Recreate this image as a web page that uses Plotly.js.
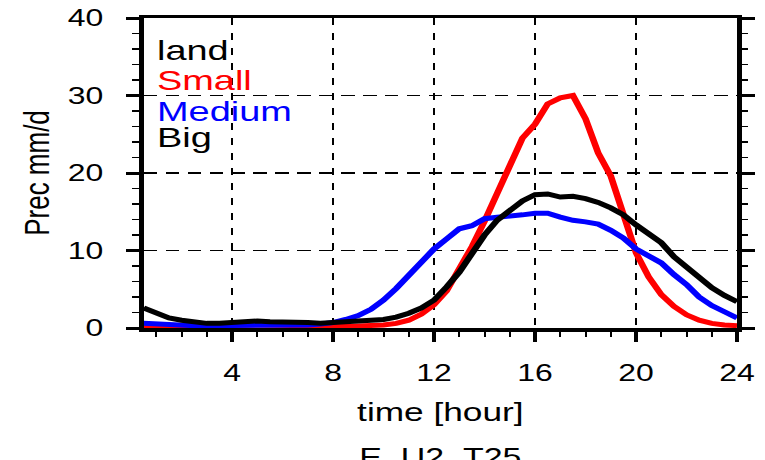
<!DOCTYPE html>
<html>
<head>
<meta charset="utf-8">
<script src="https://cdn.plot.ly/plotly-3.0.1.min.js"></script>
<style>
  html, body { margin: 0; padding: 0; background: #fff; overflow: hidden; }
  #plot { width: 575px; height: 460px; transform: scaleX(1.3304); transform-origin: 0 0; }
</style>
</head>
<body>
<div id="plot"></div>
<script>
// time in hours
const hours = [0.5,1,1.5,2,2.5,3,3.5,4,4.5,5,5.5,6,6.5,7,7.5,8,8.5,9,9.5,10,10.5,11,11.5,12,
               12.5,13,13.5,14,14.5,15,15.5,16,16.5,17,17.5,18,18.5,19,19.5,20,20.5,21,21.5,22,22.5,23,23.5,24];

// Precipitation (mm/d)
const small  = [0.2,0.2,0.2,0.2,0.2,0.2,0.25,0.3,0.35,0.4,0.35,0.3,0.25,0.2,0.2,0.2,0.2,0.25,0.3,0.4,0.6,1.0,1.8,3.0,
                4.8,7.5,10.5,13.8,17.5,21.3,24.5,26.3,28.9,29.7,30.0,27.0,22.6,19.6,14.3,9.7,6.6,4.3,2.8,1.7,1.0,0.6,0.4,0.3];
const medium = [0.6,0.5,0.4,0.3,0.3,0.3,0.3,0.3,0.3,0.3,0.3,0.3,0.3,0.4,0.5,0.7,1.1,1.6,2.4,3.6,5.1,6.8,8.6,10.2,
                11.5,12.8,13.2,14.1,14.3,14.4,14.6,14.8,14.8,14.3,13.9,13.7,13.4,12.6,11.6,10.2,9.2,8.4,6.9,5.6,4.0,2.9,2.1,1.3];
const big    = [2.6,1.9,1.3,1.0,0.8,0.6,0.6,0.7,0.8,0.9,0.8,0.8,0.8,0.7,0.6,0.7,0.8,0.9,1.0,1.1,1.4,1.9,2.6,3.6,
                5.3,7.2,9.6,12.0,13.9,15.1,16.4,17.2,17.3,16.9,17.0,16.7,16.2,15.5,14.6,13.3,12.1,11.0,9.2,7.9,6.4,5.2,4.2,3.4];

const seriesNames  = ['Small','Medium','Big'];
const seriesColors = ['#ff0000','#0000ff','#000000'];
const legendLabels = ['land','Small','Medium','Big'];
const legendColors = ['#000000','#ff0000','#0000ff','#000000'];
const xTickVals = [4,8,12,16,20,24];
const yTickVals = [0,10,20,30,40];

const seriesData = [small, medium, big];
const traces = seriesData.map((v, i) => ({
  x: hours, y: v, type: 'scatter', mode: 'lines', name: seriesNames[i],
  line: { color: seriesColors[i], width: 5 }, hoverinfo: 'skip'
}));

const legendY = [0.898, 0.7995, 0.7015, 0.6155];
const annotations = legendLabels.map((t, i) => ({
  text: t, xref: 'paper', yref: 'paper', x: 0.018, y: legendY[i],
  xanchor: 'left', yanchor: 'middle', showarrow: false,
  font: { family: 'Liberation Sans, Arial, sans-serif', size: 28.5, color: legendColors[i] }
}));
annotations.push({
  text: 'E_U2_T25', xref: 'paper', yref: 'paper', x: 0.5, y: -0.416,
  xanchor: 'center', yanchor: 'middle', showarrow: false,
  font: { family: 'Liberation Sans, Arial, sans-serif', size: 25.5, color: '#000' }
});

const axisFont = { family: 'Liberation Sans, Arial, sans-serif', size: 24, color: '#000' };

const layout = {
  width: 575, height: 460,
  margin: { l: 107.5, r: 21, t: 18, b: 132, pad: 0 },
  paper_bgcolor: '#fff', plot_bgcolor: '#fff',
  showlegend: false,
  xaxis: {
    range: [0.5, 24], tickmode: 'array', tickvals: xTickVals, ticktext: xTickVals.map(String),
    ticks: 'outside', ticklen: 10, tickwidth: 3, tickcolor: '#000',
    showline: true, linewidth: 3.5, linecolor: '#000', mirror: true,
    showgrid: true, gridcolor: '#000', gridwidth: 1.8, griddash: '7px,8px',
    zeroline: false, tickfont: axisFont, ticklabelstandoff: 11,
    minor: { tickmode: 'linear', tick0: 0, dtick: 1, ticks: 'outside', ticklen: 5, tickwidth: 1.5, tickcolor: '#000', showgrid: false },
    title: { text: 'time [hour]', font: { family: 'Liberation Sans, Arial, sans-serif', size: 26.5, color: '#000' }, standoff: 18 },
    layer: 'above traces', fixedrange: true
  },
  yaxis: {
    range: [0, 40], tickmode: 'array', tickvals: yTickVals, ticktext: yTickVals.map(String),
    ticks: 'outside', ticklen: 10, tickwidth: 3, tickcolor: '#000',
    showline: true, linewidth: 3.5, linecolor: '#000', mirror: 'ticks',
    showgrid: true, gridcolor: '#000', gridwidth: 1.8, griddash: '10px,6.5px',
    zeroline: false, tickfont: axisFont, ticklabelstandoff: 12,
    minor: { tickmode: 'linear', tick0: 0, dtick: 2, ticks: 'outside', ticklen: 5, tickwidth: 1.5, tickcolor: '#000', showgrid: false },
    title: { text: 'Prec mm/d', font: { family: 'Liberation Sans, Arial, sans-serif', size: 26, color: '#000' }, standoff: 7 },
    layer: 'above traces', fixedrange: true
  },
  annotations: annotations
};

Plotly.newPlot('plot', traces, layout, { displayModeBar: false, staticPlot: true });
</script>
</body>
</html>
